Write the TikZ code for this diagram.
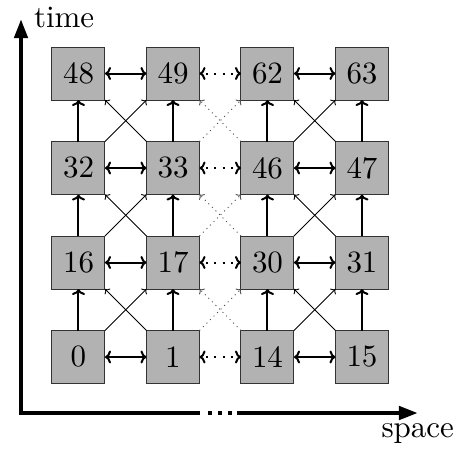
\documentclass[tikz,border=0pt]{standalone}
\usepackage{graphicx}
\usetikzlibrary{arrows.meta}
\newcommand{\biglabel}[1]{\scalebox{1.55}{\fontsize{10}{12}\selectfont #1}}
\begin{document}
\begin{tikzpicture}[x=0.5pt,y=-0.5pt,
  cell/.style={draw=black!80, line width=0.5pt, fill=black!30,
    minimum width=26.5pt, minimum height=26.5pt, inner sep=0pt, outer sep=0pt},
  link/.style={line width=1pt, {To[length=3pt,width=6.5pt]}-{To[length=3pt,width=6.5pt]}},
  uplink/.style={line width=1pt, -{To[length=3pt,width=6.5pt]}},
  cross/.style={line width=0.45pt, -{To[length=2pt,width=4pt]}},
  gap/.style={dash pattern=on 1pt off 3.2pt, dash phase=2pt},
  faint/.style={dash pattern=on 0.5pt off 2pt, draw=black!70},
  axis/.style={line width=2.2pt},
  axistip/.style={-{Triangle[length=9.5pt,width=6.5pt]}},
  axislabel/.style={inner sep=0pt, outer sep=0pt}]
\useasboundingbox (0,0) rectangle (462,456);

% grid of cells: row r (bottom to top), column c
\foreach \r in {0,1,2,3}{
  \foreach \c/\off in {0/0,1/1,2/14,3/15}{
    \pgfmathtruncatemacro{\lab}{16*\r+\off}
    \node[cell] (n\r\c) at ({78.5+94.5*\c},{357-94.5*\r}) {\biglabel{\lab}};
  }
}

% links within each row
\foreach \r in {0,1,2,3}{
  \draw[link] (n\r0) -- (n\r1);
  \draw[link,gap] (n\r1) -- (n\r2);
  \draw[link] (n\r2) -- (n\r3);
}

% links from one time step to the next
\foreach \r/\s in {0/1,1/2,2/3}{
  \foreach \c in {0,1,2,3}{
    \draw[uplink] (n\r\c.north) -- (n\s\c.south);
  }
  \draw[cross] (n\r0.north east) -- (n\s1.south west);
  \draw[cross] (n\r1.north west) -- (n\s0.south east);
  \draw[cross,faint] (n\r1.north east) -- (n\s2.south west);
  \draw[cross,faint] (n\r2.north west) -- (n\s1.south east);
  \draw[cross] (n\r2.north east) -- (n\s3.south west);
  \draw[cross] (n\r3.north west) -- (n\s2.south east);
}

% axes
\coordinate (origin) at (21,413);
\coordinate (ttop) at (21,19);
\coordinate (sbreak) at (200,413);
\coordinate (sdot) at (208,413);
\coordinate (sdotend) at (232,413);
\coordinate (sresume) at (237,413);
\coordinate (send) at (418,413);
\draw[axis,axistip] (sbreak) -- (origin) -- (ttop);
\draw[axis,dash pattern=on 2pt off 3pt] (sdot) -- (sdotend);
\draw[axis,axistip] (sresume) -- (send);

\node[axislabel,anchor=base west] (tlabel) at (34,27) {\biglabel{time}};
\node[axislabel,anchor=base east] (slabel) at (454,437) {\biglabel{space}};
\end{tikzpicture}
\end{document}
